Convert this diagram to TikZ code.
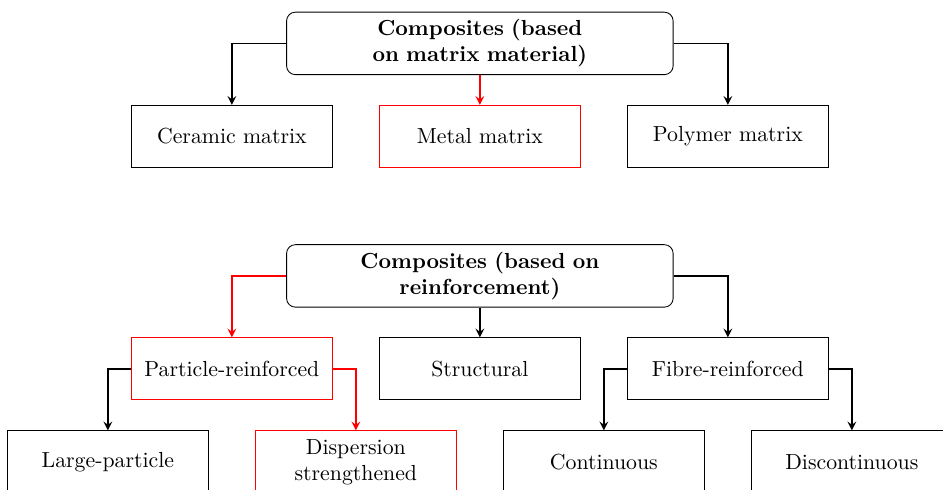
\documentclass[tikz,border=0pt]{standalone}
\usepackage{amsmath}
\usepackage{tikz}
\usetikzlibrary{arrows}
\tikzstyle{raiz}=[draw,rounded corners,text width=6cm,align=center,minimum height=1cm,font=\bfseries]
\tikzstyle{caixa}=[draw,text width=3cm,align=center,minimum height=1cm]
\tikzstyle{liga}=[thick,-stealth]

\begin{document}
\begin{tikzpicture}
    \useasboundingbox (-7.74,0.70) rectangle (7.47,-7.20);
    % matriz
    \node [raiz] (matriz) at (0,0) {Composites (based\\on matrix material)};
    \node [caixa] (ceramica) at (-4,-1.5) {Ceramic matrix};
    \node [caixa,draw=red] (metal) at (0,-1.5) {Metal matrix};
    \node [caixa] (polimero) at (4,-1.5) {Polymer matrix};
    \draw [liga] (matriz.west) -| (ceramica.north);
    \draw [liga,red] (matriz.south) -- (metal.north);
    \draw [liga] (matriz.east) -| (polimero.north);
    % reforco
    \node [raiz] (reforco) at (0,-3.75) {Composites (based on\\reinforcement)};
    \node [caixa,draw=red] (particula) at (-4,-5.25) {Particle-reinforced};
    \node [caixa] (estrutural) at (0,-5.25) {Structural};
    \node [caixa] (fibra) at (4,-5.25) {Fibre-reinforced};
    \draw [liga,red] (reforco.west) -| (particula.north);
    \draw [liga] (reforco.south) -- (estrutural.north);
    \draw [liga] (reforco.east) -| (fibra.north);
    \node [caixa] (grande) at (-6,-6.75) {Large-particle};
    \node [caixa,draw=red] (dispersao) at (-2,-6.75) {Dispersion strengthened};
    \node [caixa] (continua) at (2,-6.75) {Continuous};
    \node [caixa] (descontinua) at (6,-6.75) {Discontinuous};
    \draw [liga] (particula.west) -| (grande.north);
    \draw [liga,red] (particula.east) -| (dispersao.north);
    \draw [liga] (fibra.west) -| (continua.north);
    \draw [liga] (fibra.east) -| (descontinua.north);
\end{tikzpicture}
\end{document}
